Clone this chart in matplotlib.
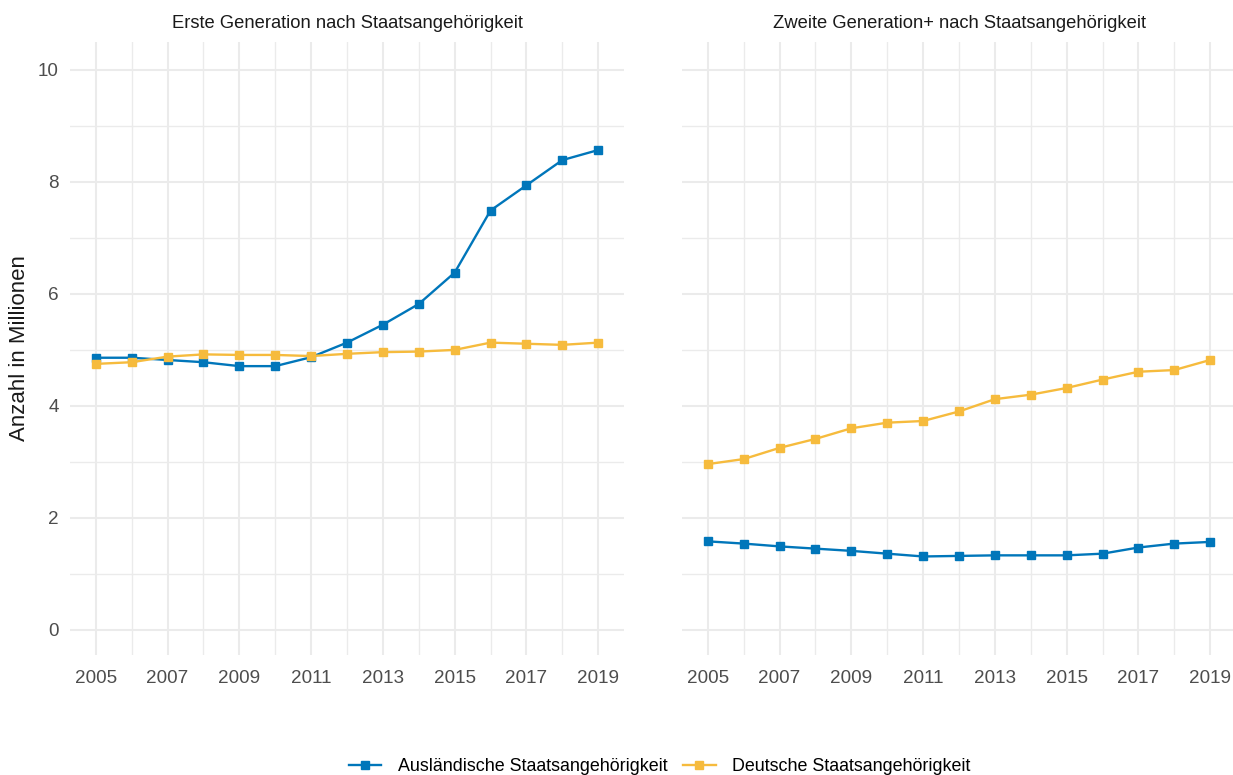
import matplotlib.pyplot as plt
from matplotlib.lines import Line2D

plt.rcParams['font.family'] = ['Liberation Sans', 'DejaVu Sans']

# Daten (Anzahl in Millionen)
years = list(range(2005, 2020))

erste_ausl = [4.86, 4.86, 4.82, 4.78, 4.71, 4.71, 4.87, 5.13, 5.45, 5.82,
              6.38, 7.49, 7.94, 8.39, 8.57]
erste_dt = [4.75, 4.78, 4.88, 4.92, 4.91, 4.91, 4.89, 4.93, 4.96, 4.97,
            5.00, 5.13, 5.11, 5.09, 5.13]
zweite_ausl = [1.58, 1.54, 1.49, 1.45, 1.41, 1.36, 1.31, 1.32, 1.33, 1.33,
               1.33, 1.36, 1.47, 1.54, 1.57]
zweite_dt = [2.96, 3.05, 3.25, 3.41, 3.60, 3.70, 3.73, 3.90, 4.12, 4.20,
             4.32, 4.47, 4.61, 4.64, 4.82]

panel_titles = ["Erste Generation nach Staatsangehörigkeit",
                "Zweite Generation+ nach Staatsangehörigkeit"]
series_labels = ["Ausländische Staatsangehörigkeit", "Deutsche Staatsangehörigkeit"]
colors = ["#0076BA", "#F6BB3D"]
xticks = [2005, 2007, 2009, 2011, 2013, 2015, 2017, 2019]
yticks = [0, 2, 4, 6, 8, 10]

fig = plt.figure(figsize=(12.33, 7.75), dpi=100)
W, H = 1233, 775
ax1 = fig.add_axes([70 / W, 120 / H, 554 / W, 613 / H])
ax2 = fig.add_axes([682 / W, 120 / H, 554 / W, 613 / H])

grid_col = "#EBEBEB"
for ax, title, (ausl, dt) in zip([ax1, ax2], panel_titles,
                                 [(erste_ausl, erste_dt), (zweite_ausl, zweite_dt)]):
    for s in ax.spines.values():
        s.set_visible(False)
    ax.set_xlim(2004.28, 2019.72)
    ax.set_ylim(-0.45, 10.5)
    ax.set_xticks(xticks)
    ax.set_xticks([y for y in years if y not in xticks], minor=True)
    ax.set_yticks(yticks)
    ax.set_yticks([1, 3, 5, 7, 9], minor=True)
    ax.grid(True, which='major', color=grid_col, linewidth=1.5, zorder=0)
    ax.grid(True, which='minor', color=grid_col, linewidth=1.0, zorder=0)
    ax.tick_params(which='both', length=0)
    ax.tick_params(axis='both', labelsize=13.6, labelcolor="#4D4D4D")
    ax.tick_params(axis='x', pad=11)
    ax.tick_params(axis='y', pad=8)
    ax.set_title(title, fontsize=13.2, color="#1A1A1A", pad=10)
    ax.plot(years, ausl, color=colors[0], linewidth=1.7, marker='s',
            markersize=5.8, zorder=3)
    ax.plot(years, dt, color=colors[1], linewidth=1.7, marker='s',
            markersize=5.8, zorder=3)

ax2.tick_params(axis='y', labelleft=False)
ax1.set_ylabel("Anzahl in Millionen", fontsize=16, color="#1A1A1A", labelpad=6)

handles = [Line2D([0], [0], color=c, linewidth=1.7, marker='s', markersize=5.8)
           for c in colors]
fig.legend(handles, series_labels, loc='center', bbox_to_anchor=(0.535, 0.011),
           ncol=2, frameon=False, fontsize=12.9, handlelength=1.8,
           columnspacing=0.9, handletextpad=0.9)

fig.savefig("out.png", dpi=100)
